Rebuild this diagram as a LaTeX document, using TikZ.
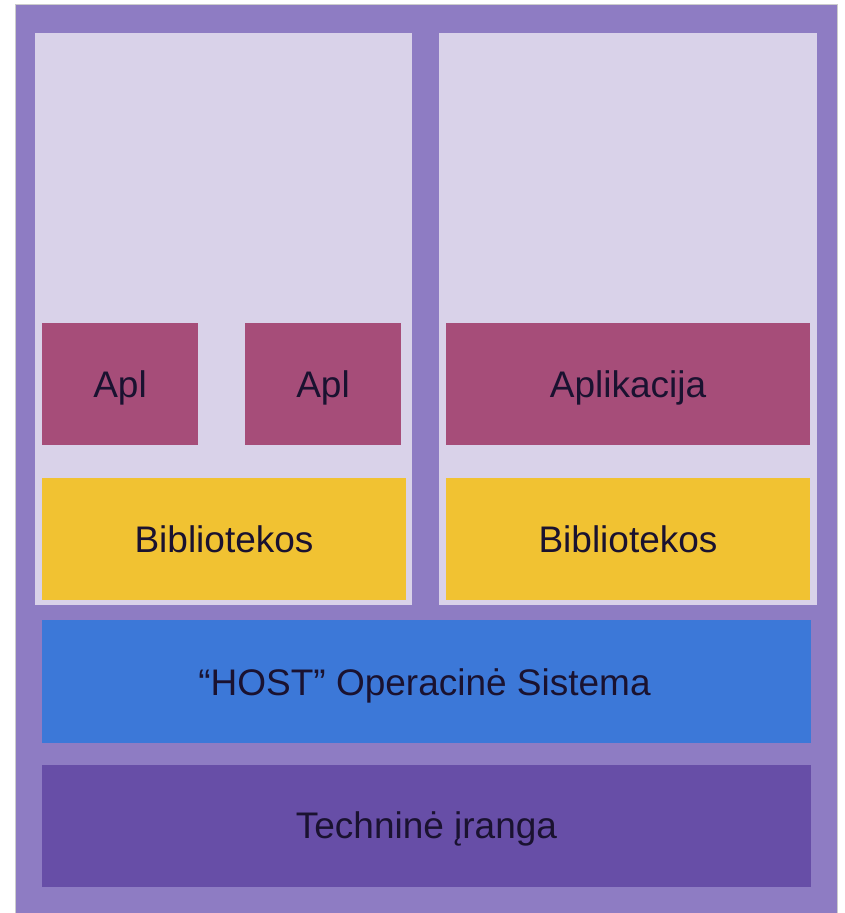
\documentclass[tikz,border=0pt]{standalone}
\usepackage{fontspec}
\setmainfont{Liberation Sans}
\definecolor{frameC}{HTML}{8E7CC3}
\definecolor{panelC}{HTML}{D9D2E9}
\definecolor{aplC}{HTML}{A64D79}
\definecolor{libC}{HTML}{F1C232}
\definecolor{osC}{HTML}{3C78D8}
\definecolor{hwC}{HTML}{674EA7}
\definecolor{txtC}{HTML}{1A1230}
\begin{document}
\begin{tikzpicture}[x=1pt,y=-1pt,
  layer/.style={anchor=north west,inner sep=0pt,outer sep=0pt},
  lbl/.style={anchor=base,inner sep=0pt,text=txtC,font=\fontsize{37}{42}\selectfont},
]
\useasboundingbox (0,0) rectangle (845,913);
\fill[white] (0,0) rectangle (845,913);
\fill[frameC] (15,4) rectangle (837,913);
\draw[gray!40,line width=0.8pt] (15,913) -- (15,4) -- (837,4) -- (837,913);
\fill[panelC] (35,33) rectangle (412,605);
\fill[panelC] (439,33) rectangle (817,605);
% boxes
\node[layer,fill=aplC,minimum width=156pt,minimum height=122pt] (apl1) at (42,323) {};
\node[lbl] at ([yshift=-13pt]apl1.center) {Apl};
\node[layer,fill=aplC,minimum width=156pt,minimum height=122pt] (apl2) at (245,323) {};
\node[lbl] at ([yshift=-13pt]apl2.center) {Apl};
\node[layer,fill=aplC,minimum width=364pt,minimum height=122pt] (apl3) at (446,323) {};
\node[lbl] at ([yshift=-13pt]apl3.center) {Aplikacija};
\node[layer,fill=libC,minimum width=364pt,minimum height=122pt] (lib1) at (42,478) {};
\node[lbl] at ([yshift=-13pt]lib1.center) {Bibliotekos};
\node[layer,fill=libC,minimum width=364pt,minimum height=122pt] (lib2) at (446,478) {};
\node[lbl] at ([yshift=-13pt]lib2.center) {Bibliotekos};
\node[layer,fill=osC,minimum width=769pt,minimum height=123pt] (os) at (42,620) {};
\node[lbl] at ([yshift=-13.5pt,xshift=-2pt]os.center) {“HOST” Operacinė Sistema};
\node[layer,fill=hwC,minimum width=769pt,minimum height=122pt] (hw) at (42,765) {};
\node[lbl] at ([yshift=-12pt]hw.center) {Techninė įranga};
\end{tikzpicture}
\end{document}
